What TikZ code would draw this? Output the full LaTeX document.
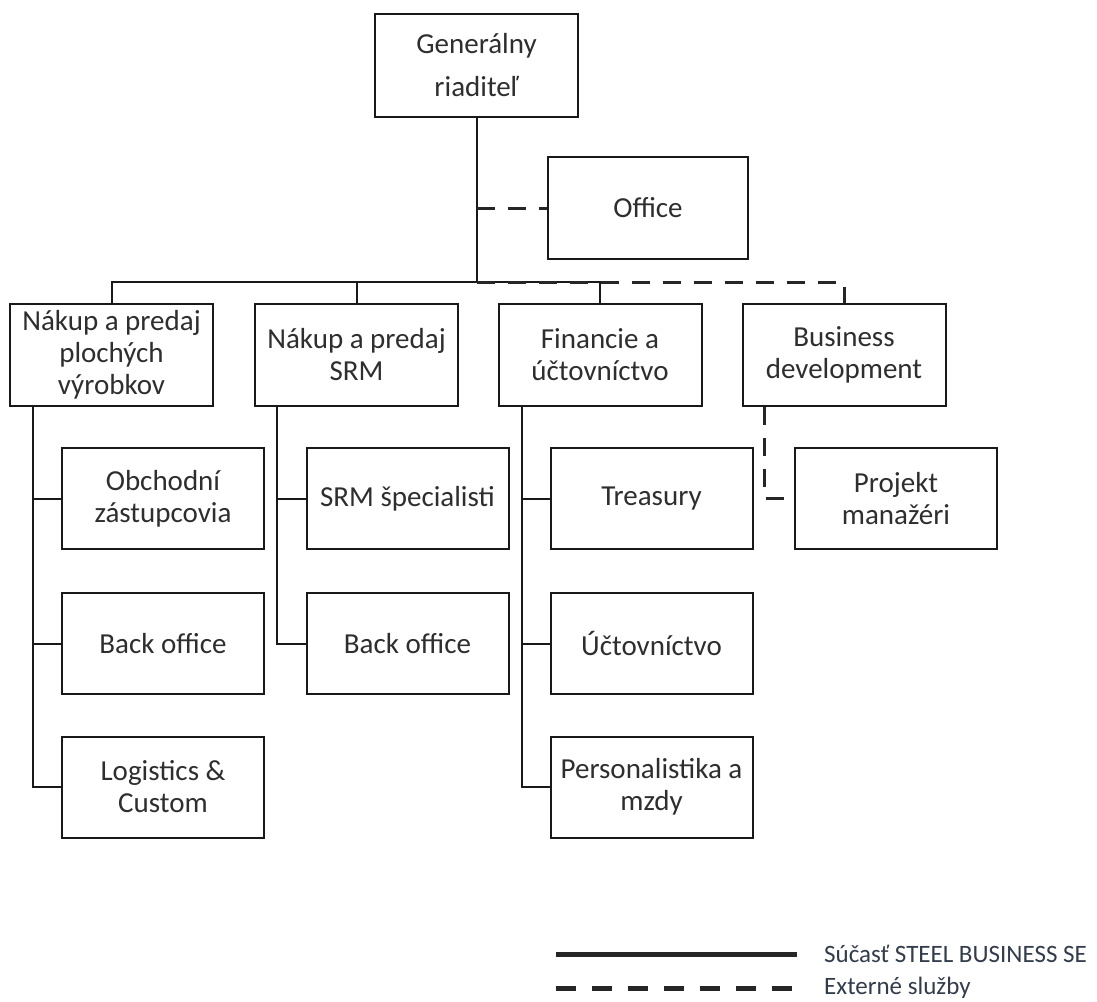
\documentclass[tikz,border=0pt]{standalone}
\usepackage{fontspec}
\setmainfont{Carlito}
\begin{document}
\begin{tikzpicture}[x=1pt,y=-1pt,
  box/.style={draw=black!90, line width=2pt, rectangle, inner sep=0pt, align=center,
    text=black!82, font=\fontsize{29}{32}\selectfont},
  topbox/.style={box, minimum width=203pt, minimum height=102pt},
  childbox/.style={box, minimum width=202pt, minimum height=101pt},
  conn/.style={draw=black!90, line width=2pt},
  ext/.style={draw=black!85, line width=3pt, dash pattern=on 18pt off 13pt},
  legsolid/.style={draw=black!85, line width=5pt},
  legdash/.style={draw=black!85, line width=5pt, dash pattern=on 20pt off 16pt},
  legtext/.style={anchor=west, inner sep=0pt, text={rgb,255:red,50;green,60;blue,75},
    font=\fontsize{25}{28}\selectfont}]
\fill[white] (0,0) rectangle (1097,1001);
\useasboundingbox (0,0) rectangle (1097,1001);

% boxes
\node[box, minimum width=203pt, minimum height=103pt, font=\fontsize{29}{43}\selectfont] (gr) at (476.5,65.5) {Generálny\\riaditeľ};
\node[box, minimum width=200pt, minimum height=102pt] (office) at (648,208) {Office};

\node[topbox] (b1) at (111.5,355) {Nákup a predaj\\plochých\\výrobkov};
\node[topbox] (b2) at (356.5,355) {Nákup a predaj\\SRM};
\node[topbox] (b3) at (600,355) {Financie a\\účtovníctvo};
\node[topbox] (b4) at (844,355) {Business\\development};

\node[childbox] (c11) at (163,498.5) {Obchodní\\zástupcovia};
\node[childbox] (c12) at (163,643.5) {Back office};
\node[childbox] (c13) at (163,787) {Logistics \&\\Custom};

\node[childbox] (c21) at (407.5,498.5) {SRM špecialisti};
\node[childbox] (c22) at (407.5,643.5) {Back office};

\node[childbox] (c31) at (651.5,498.5) {Treasury};
\node[childbox] (c32) at (651.5,643.5) {Účtovníctvo};
\node[childbox] (c33) at (651.5,787) {Personalistika a\\mzdy};

\node[childbox] (c41) at (896,498.5) {Projekt\\manažéri};

% helper coordinates
\coordinate (busy) at (0,282);
\coordinate (d1) at (33,0);
\coordinate (d2) at (277,0);
\coordinate (d3) at (522,0);
\coordinate (d4) at (764,0);

% solid connectors
\draw[conn] (gr.south) -- (gr.south |- busy);
\draw[conn] (b1.north) -- (b1.north |- busy) -- (b3.north |- busy) -- (b3.north);
\draw[conn] (b2.north |- busy) -- (b2.north);

\draw[conn] (b1.south -| d1) |- (c11.west);
\draw[conn] (b1.south -| d1) |- (c12.west);
\draw[conn] (b1.south -| d1) |- (c13.west);

\draw[conn] (b2.south -| d2) |- (c21.west);
\draw[conn] (b2.south -| d2) |- (c22.west);

\draw[conn] (b3.south -| d3) |- (c31.west);
\draw[conn] (b3.south -| d3) |- (c32.west);
\draw[conn] (b3.south -| d3) |- (c33.west);

% external (dashed) connectors
\draw[ext] (office.west -| gr.south) -- (office.west);
\draw[ext] (gr.south |- busy) -- (b4.north |- busy) -- (b4.north);
\draw[ext] (b4.south -| d4) |- (c41.west);

% legend
\coordinate (l1a) at (556,954);
\coordinate (l1b) at (797,954);
\coordinate (l2a) at (556,988);
\coordinate (l2b) at (797,988);
\draw[legsolid] (l1a) -- (l1b);
\draw[legdash] (l2a) -- (l2b);
\node[legtext] (lt1) at (824,954) {Súčasť STEEL BUSINESS SE};
\node[legtext] (lt2) at (824,988) {Externé služby};
\end{tikzpicture}
\end{document}
